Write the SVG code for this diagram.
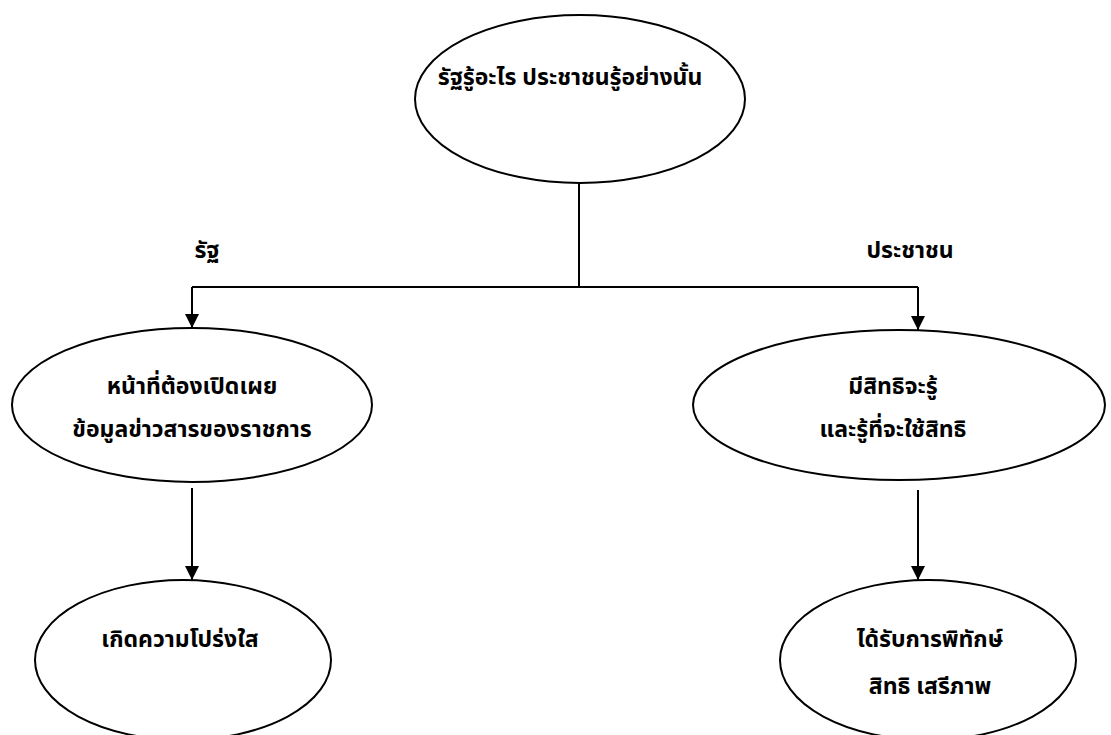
<svg xmlns="http://www.w3.org/2000/svg" width="1111" height="735" viewBox="0 0 1111 735">
<style>
.n{fill:#fff;stroke:#000;stroke-width:2}
.t{font-family:"Noto Sans Thai","Noto Sans","DejaVu Sans",sans-serif;font-weight:bold;font-size:23px;fill:#000;text-anchor:middle}
.c{fill:none;stroke:#000;stroke-width:2}
</style>
<defs>
<marker id="a" viewBox="0 0 14 14" refX="14" refY="7" markerWidth="14" markerHeight="14" markerUnits="userSpaceOnUse" orient="auto"><path d="M0,0L14,7L0,14z" fill="#000"/></marker>
</defs>
<rect width="1111" height="735" fill="#fff"/>
<g id="connectors">
<path class="c" d="M579,184V287"/>
<path class="c" d="M192,287H918"/>
<path class="c" d="M192,287V328" marker-end="url(#a)"/>
<path class="c" d="M918,287V330" marker-end="url(#a)"/>
<path class="c" d="M192,488V580" marker-end="url(#a)"/>
<path class="c" d="M918,490V580" marker-end="url(#a)"/>
</g>
<g id="labels">
<text class="t" x="207" y="258">รัฐ</text>
<text class="t" x="910" y="258">ประชาชน</text>
</g>
<g id="root">
<ellipse class="n" cx="580" cy="99" rx="165" ry="84"/>
<text class="t" x="570" y="85">รัฐรู้อะไร ประชาชนรู้อย่างนั้น</text>
</g>
<g id="state">
<ellipse class="n" cx="192" cy="405" rx="180" ry="77"/>
<text class="t" x="192" y="394">หน้าที่ต้องเปิดเผย</text>
<text class="t" x="192" y="437">ข้อมูลข่าวสารของราชการ</text>
</g>
<g id="people">
<ellipse class="n" cx="899" cy="405" rx="206" ry="75"/>
<text class="t" x="893" y="394">มีสิทธิจะรู้</text>
<text class="t" x="893" y="437">และรู้ที่จะใช้สิทธิ</text>
</g>
<g id="transparency">
<ellipse class="n" cx="183" cy="660" rx="148" ry="80"/>
<text class="t" x="180" y="647">เกิดความโปร่งใส</text>
</g>
<g id="protection">
<ellipse class="n" cx="928" cy="660" rx="148" ry="80"/>
<text class="t" x="930" y="647">ได้รับการพิทักษ์</text>
<text class="t" x="930" y="694">สิทธิ เสรีภาพ</text>
</g>
</svg>
